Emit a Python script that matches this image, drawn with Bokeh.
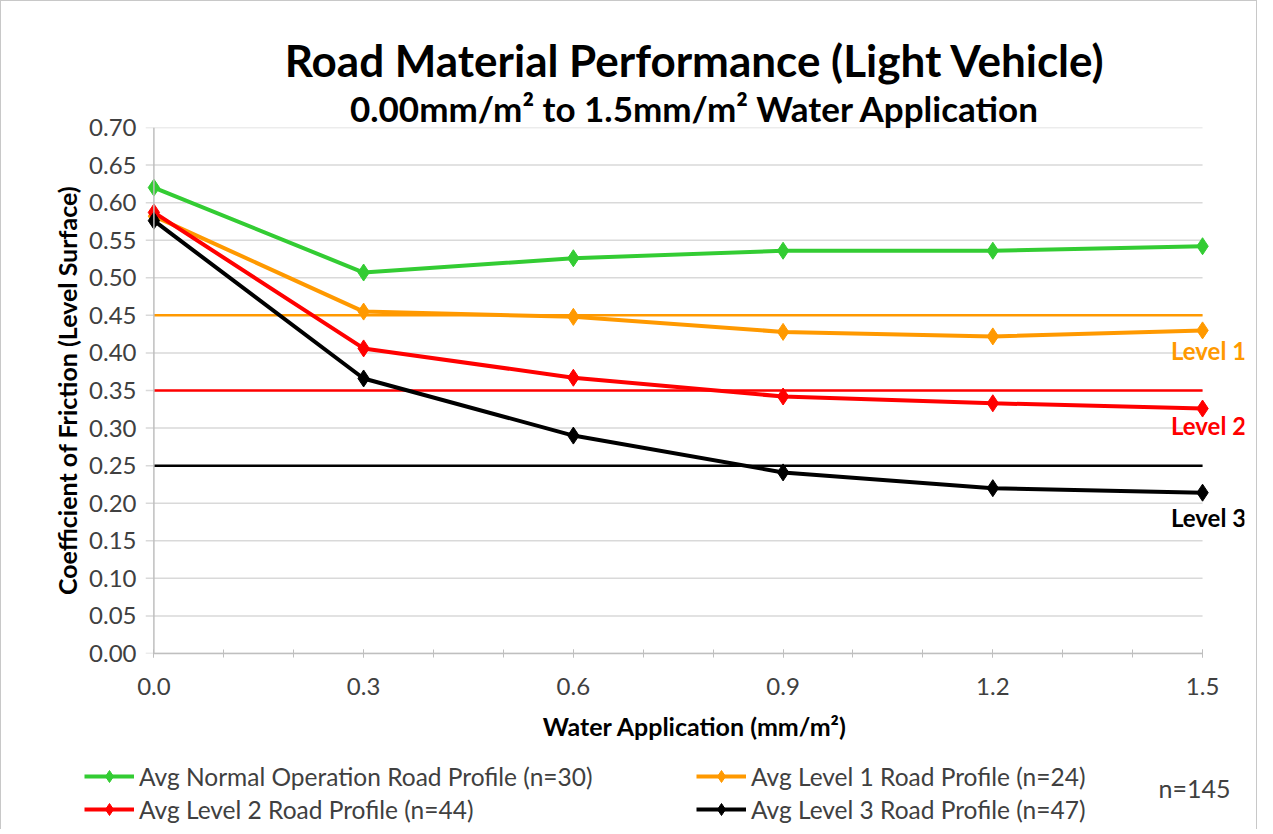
from bokeh.plotting import figure
from bokeh.models import (Range1d, FixedTicker, PrintfTickFormatter, Span, Label,
                          Legend, LegendItem, Title)
from bokeh.embed import file_html
from bokeh.resources import INLINE

# ---- data ----
water = [0.0, 0.3, 0.6, 0.9, 1.2, 1.5]
normal_op = [0.620, 0.507, 0.526, 0.536, 0.536, 0.542]
level1 = [0.582, 0.455, 0.448, 0.428, 0.422, 0.430]
level2 = [0.587, 0.406, 0.367, 0.342, 0.333, 0.326]
level3 = [0.576, 0.366, 0.290, 0.241, 0.220, 0.214]
series_names = ["Avg Normal Operation Road Profile (n=30)",
                "Avg Level 1 Road Profile (n=24)",
                "Avg Level 2 Road Profile (n=44)",
                "Avg Level 3 Road Profile (n=47)"]
thresholds = [0.45, 0.35, 0.25]
threshold_labels = ["Level 1", "Level 2", "Level 3"]
threshold_label_y = [0.403, 0.304, 0.181]
x_ticks = [0.0, 0.3, 0.6, 0.9, 1.2, 1.5]
x_minor = [0.0, 0.1, 0.2, 0.3, 0.4, 0.5, 0.6, 0.7, 0.8, 0.9, 1.0, 1.1, 1.2, 1.3, 1.4, 1.5]
y_ticks = [round(0.05 * i, 2) for i in range(15)]
title_text = "Road Material Performance (Light Vehicle)"
subtitle_text = "0.00mm/m² to 1.5mm/m² Water Application"
x_label = "Water Application (mm/m²)"
y_label = "Coefficient of Friction (Level Surface)"
n_total = "n=145"

GREEN = "#33cc33"
ORANGE = "#ff9900"
RED = "#ff0000"
BLACK = "#000000"
colors = [GREEN, ORANGE, RED, BLACK]
FONT = "Lato"
TICKCOL = "#404040"
BORDER = "1px solid #c8c8c8"

W = 1257
H_MAIN = 759
H_LEG = 70
pad = 0.012
x_end = 1.56

p = figure(width=W, height=H_MAIN, output_backend="svg", toolbar_location=None,
           x_range=Range1d(-pad, x_end), y_range=Range1d(0, 0.70),
           min_border_left=144, min_border_right=14, min_border_top=126,
           min_border_bottom=107)
p.outline_line_color = None
p.background_fill_color = "white"
p.border_fill_color = "white"
p.styles = {"border-top": BORDER, "border-left": BORDER, "border-right": BORDER}

# titles (first added sits nearest the frame)
sub = Title(text=subtitle_text, align="center", offset=-14, standoff=-3,
            text_font=FONT, text_font_style="bold", text_font_size="35px",
            text_color="black")
ttl = Title(text=title_text, align="center", offset=-15, standoff=1,
            text_font=FONT, text_font_style="bold", text_font_size="44px",
            text_color="black")
p.add_layout(sub, "above")
p.add_layout(ttl, "above")

# axes
xa = p.xaxis[0]
xa.ticker = FixedTicker(ticks=x_ticks, minor_ticks=x_minor)
xa.formatter = PrintfTickFormatter(format="%.1f")
xa.bounds = (0, 1.5)
xa.axis_line_color = "#bfbfbf"
xa.axis_line_width = 1.5
xa.major_tick_line_color = "#bfbfbf"
xa.minor_tick_line_color = "#bfbfbf"
xa.major_tick_in = 4
xa.major_tick_out = 4
xa.minor_tick_in = 4
xa.minor_tick_out = 4
xa.major_label_standoff = 20
xa.major_label_text_font = FONT
xa.major_label_text_font_size = "24px"
xa.major_label_text_color = TICKCOL

xt = Title(text=x_label, align="center", offset=-31, standoff=22,
           text_font=FONT, text_font_style="bold", text_font_size="25px",
           text_color="black")
p.add_layout(xt, "below")

ya = p.yaxis[0]
ya.ticker = FixedTicker(ticks=y_ticks)
ya.formatter = PrintfTickFormatter(format="%.2f")
ya.axis_line_color = None
ya.major_tick_line_color = None
ya.minor_tick_line_color = None
ya.major_tick_out = 0
ya.major_tick_in = 0
ya.major_label_standoff = 9
ya.major_label_text_font = FONT
ya.major_label_text_font_size = "24px"
ya.major_label_text_color = TICKCOL
ya.axis_label = y_label
ya.axis_label_text_font = FONT
ya.axis_label_text_font_style = "bold"
ya.axis_label_text_font_size = "25px"
ya.axis_label_text_color = "black"
ya.axis_label_standoff = 4

p.xgrid.grid_line_color = None
p.ygrid.grid_line_color = None

# gridlines drawn from the tick list, ending at the last x category
p.segment(x0=-pad, x1=water[-1], y0=y_ticks, y1=y_ticks,
          line_color="#d9d9d9", line_width=1.5)
p.add_layout(Span(location=0, dimension="height", line_color="#bfbfbf", line_width=1.5))

# threshold lines
for t, c in zip(thresholds, [ORANGE, RED, BLACK]):
    p.segment(x0=water[0], x1=water[-1], y0=t, y1=t, line_color=c, line_width=2.5)

# series
for ys, c in zip([normal_op, level1, level2, level3], colors):
    p.line(water, ys, line_color=c, line_width=4)
    p.scatter(water, ys, marker="diamond", size=17, fill_color=c, line_color=c)

# level labels
for txt, yy, c in zip(threshold_labels, threshold_label_y, [ORANGE, RED, BLACK]):
    p.add_layout(Label(x=water[-1], y=yy, x_offset=6, text=txt, text_align="center",
                       text_baseline="middle", text_font=FONT,
                       text_font_style="bold", text_font_size="24px", text_color=c))

# ---- legend strip (separate root, so its frame spans the full width) ----
q = figure(width=W, height=H_LEG, output_backend="svg", toolbar_location=None,
           x_range=Range1d(0, W), y_range=Range1d(0, H_LEG),
           x_axis_location=None, y_axis_location=None,
           min_border=0, min_border_left=0, min_border_right=0,
           min_border_top=0, min_border_bottom=0)
q.grid.visible = False
q.outline_line_color = None
q.background_fill_color = "white"
q.border_fill_color = "white"
q.styles = {"border-left": BORDER, "border-right": BORDER}

leg_r = []
for c in colors:
    # legend keys only: their points lie outside the visible range
    l = q.line(x=[-50, -40], y=[-50, -50], line_color=c, line_width=4)
    m = q.scatter(x=[-45], y=[-50], marker="diamond", size=13, fill_color=c, line_color=c)
    leg_r.append([l, m])

def mk_legend(idx, loc):
    items = [LegendItem(label=series_names[i], renderers=leg_r[i]) for i in idx]
    return Legend(items=items, location=loc, orientation="vertical",
                  glyph_width=50, glyph_height=30, spacing=3, label_standoff=5,
                  padding=0, margin=0, border_line_color=None,
                  background_fill_alpha=0, label_text_font=FONT,
                  label_text_font_size="24.5px", label_text_color=TICKCOL)

q.add_layout(mk_legend([0, 2], (83, 5)))
q.add_layout(mk_legend([1, 3], (695, 5)))
q.add_layout(Label(x=1193, y=42, text=n_total, text_align="center",
                   text_baseline="middle", text_font=FONT,
                   text_font_size="25px", text_color=TICKCOL))

open("out.html", "w").write(file_html([p, q], INLINE))
